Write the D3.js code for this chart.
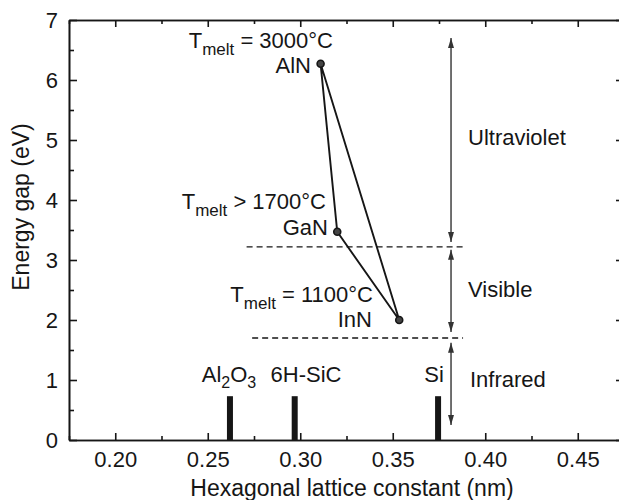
<!DOCTYPE html>
<html>
<head>
<meta charset="utf-8">
<script src="https://d3js.org/d3.v7.min.js"></script>
<style>
  body { margin: 0; background: #fff; }
  svg text { font-family: "Liberation Sans", Arial, Helvetica, sans-serif; fill: #161616; }
</style>
</head>
<body>
<script>
// nitride compounds (lattice constant nm, energy gap eV)
var compounds = ["AlN", "GaN", "InN"];
var latticeConst = [0.311, 0.320, 0.3535];
var energyGap = [6.27, 3.47, 2.0];
var meltText = [" = 3000°C", " > 1700°C", " = 1100°C"];

// substrates drawn as bars on the x axis
var substrates = ["Al2O3", "6H-SiC", "Si"];
var substrateConst = [0.262, 0.297, 0.3745];
var substrateBar = 0.73;

// spectral regions
var bands = ["Ultraviolet", "Visible", "Infrared"];
var bandTop = [6.7, 3.17, 1.62];
var bandBottom = [3.3, 1.8, 0.25];
var bandEdges = [3.22, 1.70];
var bandEdgeStart = [0.271, 0.274];
var bandEdgeEnd = 0.388;
var arrowX = 0.3815;

var xMajor = [0.20, 0.25, 0.30, 0.35, 0.40, 0.45];
var xMinor = [0.175, 0.225, 0.275, 0.325, 0.375, 0.425];
var yMajor = [0, 1, 2, 3, 4, 5, 6, 7];
var yMinor = [0.5, 1.5, 2.5, 3.5, 4.5, 5.5, 6.5];

var W = 619, H = 500;
var mLeft = 69, mRight = 624, mTop = 20, mBottom = 440;

var x = d3.scaleLinear().domain([0.175, 0.475]).range([mLeft, mRight]);
var y = d3.scaleLinear().domain([0, 7]).range([mBottom, mTop]);

var svg = d3.select("body").append("svg")
    .attr("width", W).attr("height", H);

var ink = "#161616";

svg.append("defs").append("marker")
    .attr("id", "head")
    .attr("viewBox", "0 0 10 6")
    .attr("refX", 10).attr("refY", 3)
    .attr("markerWidth", 10).attr("markerHeight", 6)
    .attr("markerUnits", "userSpaceOnUse")
    .attr("orient", "auto-start-reverse")
    .append("path")
    .attr("d", "M0,0 L10,3 L0,6 Z")
    .attr("fill", "#333");

function styleAxis(g) {
    g.selectAll("path, line").attr("stroke", ink).attr("stroke-width", 1.6);
    g.selectAll("text").attr("font-size", 22).attr("fill", ink)
        .style("font-family", "'Liberation Sans', Arial, sans-serif");
}

// bottom
svg.append("g").attr("transform", "translate(0," + mBottom + ")")
    .call(d3.axisBottom(x).tickValues(xMajor).tickSize(-7).tickSizeOuter(0)
        .tickPadding(11).tickFormat(d3.format(".2f")))
    .call(styleAxis);
svg.append("g").attr("transform", "translate(0," + mBottom + ")")
    .call(d3.axisBottom(x).tickValues(xMinor).tickSize(-4).tickSizeOuter(0).tickFormat(""))
    .call(styleAxis);
// top
svg.append("g").attr("transform", "translate(0," + mTop + ")")
    .call(d3.axisTop(x).tickValues(xMajor).tickSize(-7).tickSizeOuter(0).tickFormat(""))
    .call(styleAxis);
svg.append("g").attr("transform", "translate(0," + mTop + ")")
    .call(d3.axisTop(x).tickValues(xMinor).tickSize(-4).tickSizeOuter(0).tickFormat(""))
    .call(styleAxis);
// left
svg.append("g").attr("transform", "translate(" + mLeft + ",0)")
    .call(d3.axisLeft(y).tickValues(yMajor).tickSize(-8).tickSizeOuter(0)
        .tickPadding(11).tickFormat(d3.format("d")))
    .call(styleAxis);
svg.append("g").attr("transform", "translate(" + mLeft + ",0)")
    .call(d3.axisLeft(y).tickValues(yMinor).tickSize(-5).tickSizeOuter(0).tickFormat(""))
    .call(styleAxis);
// right
svg.append("g").attr("transform", "translate(" + mRight + ",0)")
    .call(d3.axisRight(y).tickValues(yMajor).tickSize(-8).tickSizeOuter(0).tickFormat(""))
    .call(styleAxis);
svg.append("g").attr("transform", "translate(" + mRight + ",0)")
    .call(d3.axisRight(y).tickValues(yMinor).tickSize(-5).tickSizeOuter(0).tickFormat(""))
    .call(styleAxis);

// axis titles
svg.append("text")
    .attr("x", 352).attr("y", 496)
    .attr("text-anchor", "middle").attr("font-size", 23)
    .text("Hexagonal lattice constant (nm)");
svg.append("text")
    .attr("transform", "translate(29,207) rotate(-90)")
    .attr("text-anchor", "middle").attr("font-size", 23)
    .text("Energy gap (eV)");

// band boundaries
svg.selectAll(".edge").data(bandEdges).join("line")
    .attr("class", "edge")
    .attr("x1", function(d, i) { return x(bandEdgeStart[i]); })
    .attr("x2", x(bandEdgeEnd))
    .attr("y1", function(d) { return y(d); })
    .attr("y2", function(d) { return y(d); })
    .attr("stroke", ink).attr("stroke-width", 1.3)
    .attr("stroke-dasharray", "6,4");

// band arrows
svg.selectAll(".band").data(bands).join("line")
    .attr("class", "band")
    .attr("x1", x(arrowX)).attr("x2", x(arrowX))
    .attr("y1", function(d, i) { return y(bandTop[i]); })
    .attr("y2", function(d, i) { return y(bandBottom[i]); })
    .attr("stroke", "#333").attr("stroke-width", 1.4)
    .attr("marker-start", "url(#head)")
    .attr("marker-end", "url(#head)");

var bandLabelY = [145, 297, 387];
var bandLabelX = [468, 468, 470];
svg.selectAll(".bandlabel").data(bands).join("text")
    .attr("class", "bandlabel")
    .attr("x", function(d, i) { return bandLabelX[i]; })
    .attr("y", function(d, i) { return bandLabelY[i]; })
    .attr("font-size", 22)
    .text(function(d) { return d; });

// substrate bars
svg.selectAll(".sub").data(substrates).join("rect")
    .attr("class", "sub")
    .attr("x", function(d, i) { return x(substrateConst[i]) - 3; })
    .attr("width", 6)
    .attr("y", y(substrateBar))
    .attr("height", y(0) - y(substrateBar))
    .attr("fill", ink);

var subLabelX = [229, 306, 434];
svg.selectAll(".sublabel").data(substrates).join("text")
    .attr("class", "sublabel")
    .attr("x", function(d, i) { return subLabelX[i]; })
    .attr("y", 382)
    .attr("text-anchor", "middle")
    .attr("font-size", 22)
    .each(function(d) {
        var t = d3.select(this);
        if (d === "Al2O3") {
            t.append("tspan").text("Al");
            t.append("tspan").attr("dy", 6).attr("font-size", 16).text("2");
            t.append("tspan").attr("dy", -6).text("O");
            t.append("tspan").attr("dy", 6).attr("font-size", 16).text("3");
        } else {
            t.text(d);
        }
    });

// triangle connecting the nitrides
var idx = [0, 1, 2, 0];
var tri = d3.line()
    .x(function(i) { return x(latticeConst[i]); })
    .y(function(i) { return y(energyGap[i]); });
svg.append("path")
    .attr("d", tri(idx))
    .attr("fill", "none")
    .attr("stroke", ink)
    .attr("stroke-width", 1.9)
    .attr("stroke-linejoin", "round");

svg.selectAll(".pt").data(compounds).join("circle")
    .attr("class", "pt")
    .attr("cx", function(d, i) { return x(latticeConst[i]); })
    .attr("cy", function(d, i) { return y(energyGap[i]); })
    .attr("r", 3.5)
    .attr("fill", "#444")
    .attr("stroke", ink)
    .attr("stroke-width", 1.6);

// labels
var nameEnd = [311, 328, 372];
var nameDy = [9, 3, 7];
var meltEnd = [333, 326, 373];
var meltDy = [-16, -23, -18];

svg.selectAll(".name").data(compounds).join("text")
    .attr("class", "name")
    .attr("x", function(d, i) { return nameEnd[i]; })
    .attr("y", function(d, i) { return y(energyGap[i]) + nameDy[i]; })
    .attr("text-anchor", "end")
    .attr("font-size", 22)
    .text(function(d) { return d; });

svg.selectAll(".melt").data(meltText).join("text")
    .attr("class", "melt")
    .attr("x", function(d, i) { return meltEnd[i]; })
    .attr("y", function(d, i) { return y(energyGap[i]) + meltDy[i]; })
    .attr("text-anchor", "end")
    .attr("font-size", 22)
    .each(function(d) {
        var t = d3.select(this);
        t.append("tspan").text("T");
        t.append("tspan").attr("dy", 7).attr("font-size", 17).text("melt");
        t.append("tspan").attr("dy", -7).text(d);
    });
</script>
</body>
</html>
